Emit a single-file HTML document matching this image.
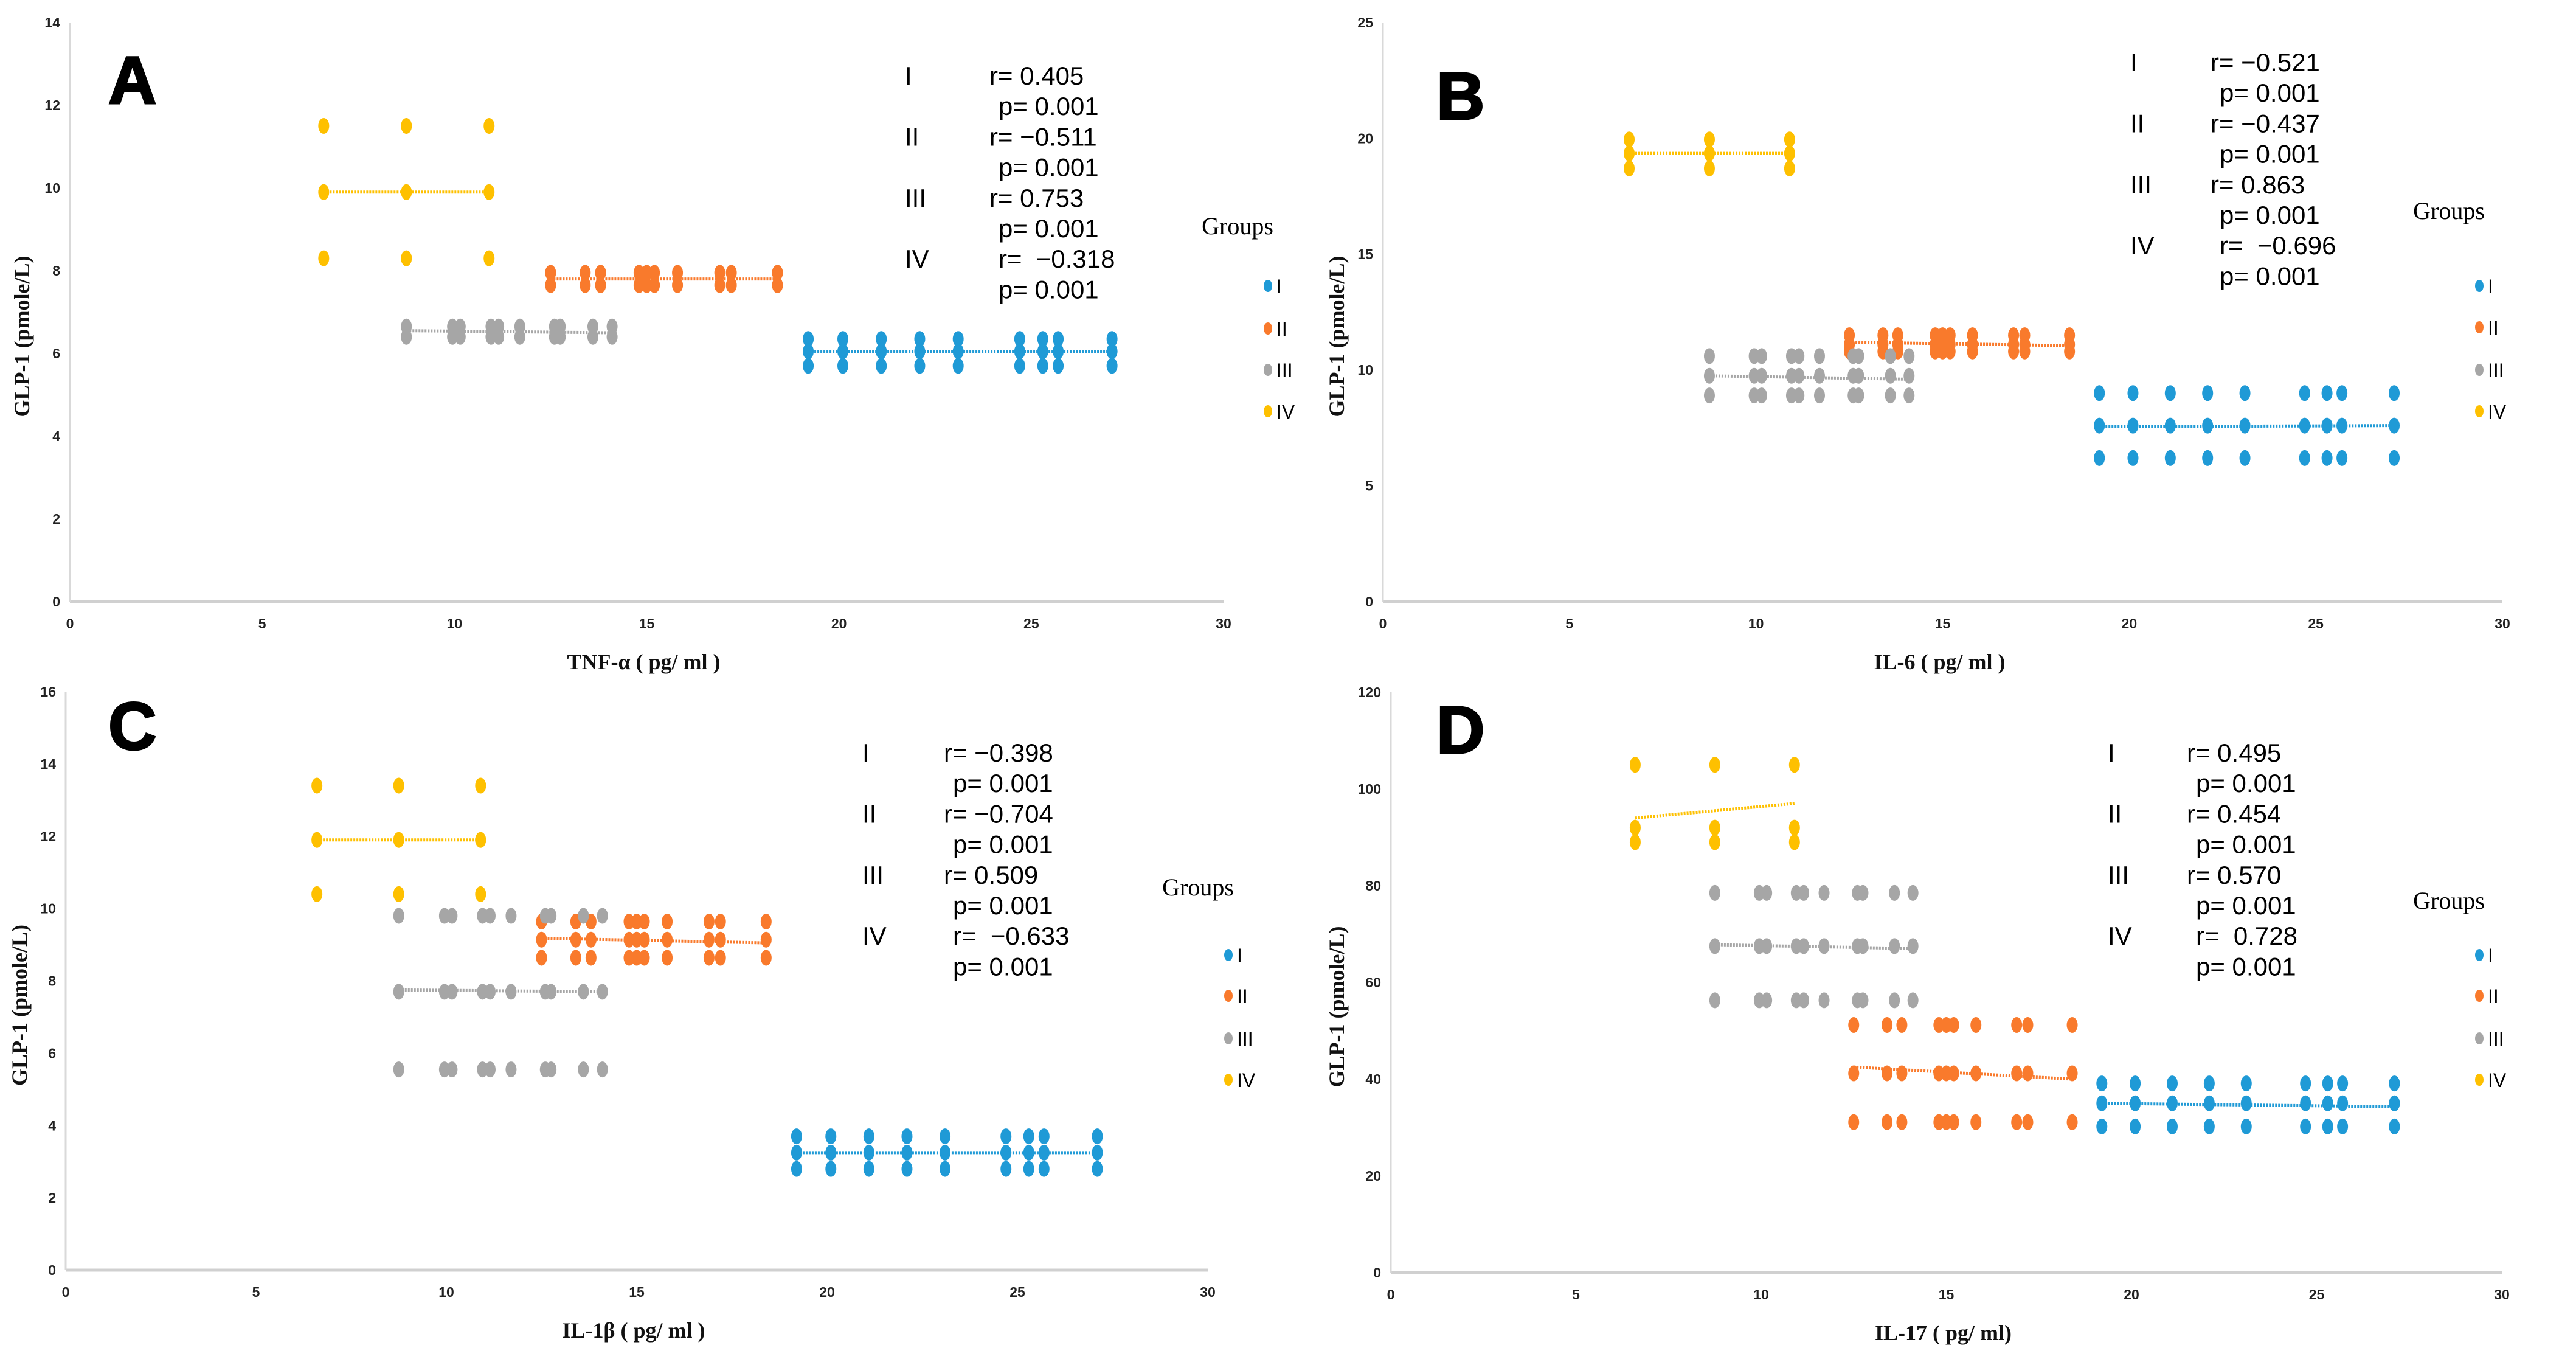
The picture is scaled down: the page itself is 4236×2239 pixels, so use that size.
<!DOCTYPE html>
<html><head><meta charset="utf-8"><style>
html,body{margin:0;padding:0;background:#fff;}
svg{display:block;}
</style></head><body>
<svg id="fig" width="4236" height="2239" viewBox="0 0 4236 2239" xmlns="http://www.w3.org/2000/svg"></svg>
<script>
// shared x values per group (pg/ml)
const xI = [19.2, 20.1, 21.1, 22.1, 23.1, 24.7, 25.3, 25.7, 27.1];
const xII = [12.5, 13.4, 13.8, 14.8, 15.0, 15.2, 15.8, 16.9, 17.2, 18.4];
const xIII = [8.75, 9.95, 10.15, 10.95, 11.15, 11.7, 12.6, 12.75, 13.6, 14.1];
const xIV = [6.6, 8.75, 10.9];
const groupNames = ["I", "II", "III", "IV"];
const xTicks = [0, 5, 10, 15, 20, 25, 30];
// panel A (TNF-a) y-levels per group and trend [start,end]
const yA_I = [6.35, 6.05, 5.7], yA_II = [7.95, 7.65], yA_III = [6.65, 6.4], yA_IV = [11.5, 9.9, 8.3];
const tA_I = [6.05, 6.05], tA_II = [7.8, 7.8], tA_III = [6.55, 6.5], tA_IV = [9.9, 9.9];
const yTicksA = [0, 2, 4, 6, 8, 10, 12, 14];
// panel B (IL-6)
const yB_I = [9.0, 7.6, 6.2], yB_II = [11.5, 11.1, 10.8], yB_III = [10.6, 9.75, 8.9], yB_IV = [19.95, 19.35, 18.7];
const tB_I = [7.55, 7.6], tB_II = [11.2, 11.05], tB_III = [9.75, 9.6], tB_IV = [19.35, 19.35];
const yTicksB = [0, 5, 10, 15, 20, 25];
// panel C (IL-1b)
const yC_I = [3.7, 3.25, 2.8], yC_II = [9.64, 9.14, 8.64], yC_III = [9.8, 7.7, 5.55], yC_IV = [13.4, 11.9, 10.4];
const tC_I = [3.25, 3.25], tC_II = [9.18, 9.05], tC_III = [7.75, 7.7], tC_IV = [11.9, 11.9];
const yTicksC = [0, 2, 4, 6, 8, 10, 12, 14, 16];
// panel D (IL-17)
const yD_I = [39.1, 35.0, 30.2], yD_II = [51.2, 41.2, 31.1], yD_III = [78.5, 67.5, 56.3], yD_IV = [105, 92, 89];
const tD_I = [35.0, 34.3], tD_II = [42.5, 40.0], tD_III = [67.8, 67.0], tD_IV = [94, 97];
const yTicksD = [0, 20, 40, 60, 80, 100, 120];
// stats text
const statsA = ["r= 0.405","p= 0.001","r= \u22120.511","p= 0.001","r= 0.753","p= 0.001","r=\u00a0 \u22120.318","p= 0.001"];
const statsB = ["r= \u22120.521","p= 0.001","r= \u22120.437","p= 0.001","r= 0.863","p= 0.001","r=\u00a0 \u22120.696","p= 0.001"];
const statsC = ["r= \u22120.398","p= 0.001","r= \u22120.704","p= 0.001","r= 0.509","p= 0.001","r=\u00a0 \u22120.633","p= 0.001"];
const statsD = ["r= 0.495","p= 0.001","r= 0.454","p= 0.001","r= 0.570","p= 0.001","r=\u00a0 0.728","p= 0.001"];

const colors = ["#1f9ad6", "#f97a2c", "#a6a6a6", "#fec000"];
const NS = "http://www.w3.org/2000/svg";
const svg = document.getElementById("fig");
function mk(tag, attrs, parent, text) {
  const e = document.createElementNS(NS, tag);
  for (const k in attrs) e.setAttribute(k, attrs[k]);
  if (text !== undefined) e.textContent = text;
  parent.appendChild(e);
  return e;
}
const panels = [
  {id:"a", letter:"A", x0:115, x1:2012, y0:989, y1:37, ymax:14, yticks:yTicksA, xt:"TNF-\u03b1 ( pg/ ml )",
   ys:[yA_I,yA_II,yA_III,yA_IV], ts:[tA_I,tA_II,tA_III,tA_IV], stats:statsA,
   lx:[1488,1637], sy:124, lgx:2035, lgy:385, lgEntries:[470,540,608,676], ytitleX:48, letterPos:[178,170]},
  {id:"b", letter:"B", x0:2274, x1:4115, y0:989, y1:37, ymax:25, yticks:yTicksB, xt:"IL-6 ( pg/ ml )",
   ys:[yB_I,yB_II,yB_III,yB_IV], ts:[tB_I,tB_II,tB_III,tB_IV], stats:statsB,
   lx:[3503,3645], sy:102, lgx:4027, lgy:360, lgEntries:[470,538,608,676], ytitleX:2210, letterPos:[2362,196]},
  {id:"c", letter:"C", x0:108, x1:1986, y0:2088, y1:1137, ymax:16, yticks:yTicksC, xt:"IL-1\u03b2 ( pg/ ml )",
   ys:[yC_I,yC_II,yC_III,yC_IV], ts:[tC_I,tC_II,tC_III,tC_IV], stats:statsC,
   lx:[1418,1562], sy:1237, lgx:1970, lgy:1472, lgEntries:[1570,1637,1707,1775], ytitleX:44, letterPos:[178,1232]},
  {id:"d", letter:"D", x0:2287, x1:4114, y0:2092, y1:1138, ymax:120, yticks:yTicksD, xt:"IL-17 ( pg/ ml)",
   ys:[yD_I,yD_II,yD_III,yD_IV], ts:[tD_I,tD_II,tD_III,tD_IV], stats:statsD,
   lx:[3466,3606], sy:1237, lgx:4027, lgy:1494, lgEntries:[1570,1637,1707,1775], ytitleX:2210, letterPos:[2362,1238]}
];
const groupXs = [xI, xII, xIII, xIV];
panels.forEach(p => {
  const g = mk("g", {}, svg);
  
  
  const sx = v => p.x0 + (p.x1 - p.x0) * v / 30;
  const sy = v => p.y0 - (p.y0 - p.y1) * v / p.ymax;
  const ax = mk("line", {x1:p.x0, y1:p.y0, x2:p.x1, y2:p.y0, stroke:"#d0d0d0", "stroke-width":5}, g);
  
  
  const ay = mk("line", {x1:p.x0, y1:p.y0, x2:p.x0, y2:p.y1, stroke:"#d9d9d9", "stroke-width":3}, g);
  
  
  xTicks.forEach(t => {
    const e = mk("text", {x:sx(t), y:p.y0 + 44, "font-family":"Liberation Sans Narrow, Liberation Sans, sans-serif", "font-size":23, "font-weight":"600", "text-anchor":"middle", fill:"#222"}, g, String(t));
    
    
  });
  p.yticks.forEach(t => {
    const e = mk("text", {x:p.x0 - 16, y:sy(t) + 8, "font-family":"Liberation Sans Narrow, Liberation Sans, sans-serif", "font-size":23, "font-weight":"600", "text-anchor":"end", fill:"#222"}, g, String(t));
    
    
  });
  const xt = mk("text", {x:(p.x0 + p.x1) / 2 - 5, y:p.y0 + 111, "font-family":"Liberation Serif, serif", "font-weight":"bold", "font-size":36, "text-anchor":"middle", fill:"#111"}, g, p.xt);
  
  
  const cy = (p.y0 + p.y1) / 2 + 40;
  const yt = mk("text", {x:p.ytitleX, y:cy, transform:"rotate(-90 " + p.ytitleX + " " + cy + ")", "font-family":"Liberation Serif, serif", "font-weight":"bold", "font-size":36, "text-anchor":"middle", fill:"#111"}, g, "GLP-1  (pmole/L)");
  
  
  const lt = mk("text", {x:p.letterPos[0], y:p.letterPos[1], "font-family":"Liberation Sans, sans-serif", "font-weight":"bold", "font-size":110, "text-anchor":"start", fill:"#000", stroke:"#000", "stroke-width":3}, g, p.letter);
  
  
  groupXs.forEach((xs, gi) => {
    const sg = mk("g", {}, g);
    
    
    const tr = p.ts[gi];
    const xmin = Math.min(...xs), xmax = Math.max(...xs);
    const tl = mk("line", {x1:sx(xmin), y1:sy(tr[0]), x2:sx(xmax), y2:sy(tr[1]), stroke:colors[gi], "stroke-width":5, "stroke-dasharray":"3 2"}, sg);
    
    
    p.ys[gi].forEach(yv => {
      xs.forEach(xv => {
        const c = mk("ellipse", {cx:sx(xv), cy:sy(yv), rx:9, ry:13, fill:colors[gi]}, sg);
        
        
      });
    });
  });
  const st = mk("g", {}, g);
  
  
  p.stats.forEach((s, i) => {
    const yy = p.sy + i * 50.2 + 15;
    if (i % 2 === 0) {
      const l = mk("text", {x:p.lx[0], y:yy, "font-family":"Liberation Sans, sans-serif", "font-size":42, fill:"#000"}, st, groupNames[i / 2]);
      
      
    }
    const dx = (i % 2 === 0) ? (i === 6 ? 5 : -10) : 5;
    const v = mk("text", {x:p.lx[1] + dx, y:yy, "font-family":"Liberation Sans, sans-serif", "font-size":42, fill:"#000"}, st, s);
    
    
  });
  const lg = mk("g", {}, g);
  
  
  const lgT = mk("text", {x:p.lgx, y:p.lgy, "font-family":"Liberation Serif, serif", "font-size":40, "text-anchor":"middle", fill:"#000"}, lg, "Groups");
  
  
  p.lgEntries.forEach((ey, i) => {
    const e = mk("g", {}, lg);
    
    
    mk("ellipse", {cx:p.lgx + 50, cy:ey, rx:7, ry:10, fill:colors[i]}, e);
    mk("text", {x:p.lgx + 64, y:ey + 12, "font-family":"Liberation Sans Narrow, Liberation Sans, sans-serif", "font-size":32, fill:"#000"}, e, groupNames[i]);
  });
});
</script>
</body></html>
